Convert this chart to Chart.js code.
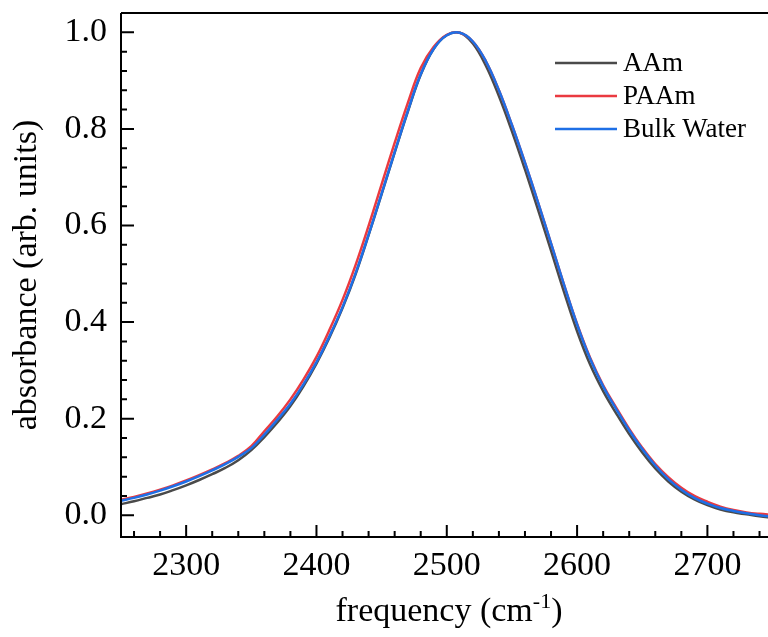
<!DOCTYPE html>
<html>
<head>
    <meta charset="UTF-8">
    <title>absorbance</title>
    <script src="https://cdn.jsdelivr.net/npm/chart.js"></script>
    <style>
        html, body {
            margin: 0;
            padding: 0;
            background: #fff;
        }
        #wrap {
            width: 768px;
            height: 637px;
        }
    </style>
</head>
<body>
    <div id="wrap"><canvas id="chart"></canvas></div>
    <script>
        // frequency (cm-1)
        const freq = [
            2250, 2260, 2270, 2280, 2290, 2300, 2310, 2320, 2330, 2340,
            2350, 2360, 2370, 2380, 2390, 2400, 2410, 2420, 2430, 2440,
            2450, 2460, 2470, 2480, 2490, 2500, 2510, 2520, 2530, 2540,
            2550, 2560, 2570, 2580, 2590, 2600, 2610, 2620, 2630, 2640,
            2650, 2660, 2670, 2680, 2690, 2700, 2710, 2720, 2730, 2740, 2750
        ];
        const aam = [
            0.023, 0.029, 0.036, 0.043, 0.052, 0.062, 0.073, 0.085, 0.098, 0.114,
            0.135, 0.162, 0.192, 0.226, 0.267, 0.314, 0.368, 0.429, 0.499, 0.580,
            0.665, 0.751, 0.835, 0.912, 0.966, 0.994, 0.999, 0.977, 0.931, 0.868,
            0.795, 0.716, 0.633, 0.548, 0.462, 0.381, 0.312, 0.257, 0.211, 0.168,
            0.130, 0.097, 0.070, 0.049, 0.033, 0.021, 0.012, 0.006, 0.002, -0.002, -0.005
        ];
        const paam = [
            0.032, 0.038, 0.045, 0.053, 0.062, 0.072, 0.083, 0.095, 0.108, 0.123,
            0.143, 0.174, 0.205, 0.240, 0.281, 0.328, 0.384, 0.446, 0.518, 0.599,
            0.685, 0.771, 0.853, 0.926, 0.970, 0.995, 0.999, 0.981, 0.940, 0.880,
            0.808, 0.730, 0.648, 0.563, 0.477, 0.396, 0.326, 0.269, 0.223, 0.179,
            0.140, 0.106, 0.079, 0.057, 0.040, 0.028, 0.018, 0.011, 0.006, 0.003, 0.001
        ];
        const bulkWater = [
            0.030, 0.036, 0.043, 0.051, 0.060, 0.070, 0.081, 0.093, 0.106, 0.121,
            0.139, 0.167, 0.198, 0.231, 0.271, 0.317, 0.371, 0.431, 0.501, 0.581,
            0.666, 0.752, 0.836, 0.913, 0.966, 0.994, 0.999, 0.981, 0.940, 0.880,
            0.808, 0.730, 0.648, 0.563, 0.477, 0.395, 0.324, 0.267, 0.220, 0.176,
            0.137, 0.103, 0.075, 0.053, 0.036, 0.024, 0.015, 0.009, 0.004, 0.000, -0.003
        ];
        const seriesNames = ["AAm", "PAAm", "Bulk Water"];
        const seriesColors = ["#4a4a4a", "#ea3a40", "#1e6fe6"];

        const xMajor = [2300, 2400, 2500, 2600, 2700];
        const xMinor = [2260, 2280, 2320, 2340, 2360, 2380, 2420, 2440, 2460, 2480,
            2520, 2540, 2560, 2580, 2620, 2640, 2660, 2680, 2720, 2740];
        const yMajor = [0.0, 0.2, 0.4, 0.6, 0.8, 1.0];
        const yMinor = [0.04, 0.08, 0.12, 0.16, 0.24, 0.28, 0.32, 0.36, 0.44, 0.48, 0.52, 0.56,
            0.64, 0.68, 0.72, 0.76, 0.84, 0.88, 0.92, 0.96];

        const FONT = "'Liberation Serif', 'Times New Roman', serif";

        const allSeries = [aam, paam, bulkWater];
        const datasets = allSeries.map((vals, i) => ({
            label: seriesNames[i],
            data: freq.map((f, j) => ({ x: f, y: vals[j] })),
            borderColor: seriesColors[i],
            borderWidth: 2.5,
            pointRadius: 0,
            tension: 0.4,
            fill: false,
            order: allSeries.length - i   // last series on top
        }));

        // axes box, inward ticks, legend and x title
        const decorations = {
            id: "decorations",
            afterDraw(chart) {
                const ctx = chart.ctx;
                const a = chart.chartArea;
                const xs = chart.scales.x;
                const ys = chart.scales.y;
                ctx.save();
                ctx.strokeStyle = "#000";
                ctx.lineWidth = 2;

                ctx.beginPath();
                ctx.moveTo(a.left, a.top);
                ctx.lineTo(a.right + 2, a.top);
                ctx.moveTo(a.left, a.top);
                ctx.lineTo(a.left, a.bottom);
                ctx.lineTo(a.right + 2, a.bottom);
                ctx.stroke();

                ctx.beginPath();
                xMajor.forEach(v => {
                    const px = xs.getPixelForValue(v);
                    ctx.moveTo(px, a.bottom);
                    ctx.lineTo(px, a.bottom - 12);
                });
                xMinor.forEach(v => {
                    const px = xs.getPixelForValue(v);
                    ctx.moveTo(px, a.bottom);
                    ctx.lineTo(px, a.bottom - 6);
                });
                yMajor.forEach(v => {
                    const py = ys.getPixelForValue(v);
                    ctx.moveTo(a.left, py);
                    ctx.lineTo(a.left + 13, py);
                });
                yMinor.forEach(v => {
                    const py = ys.getPixelForValue(v);
                    ctx.moveTo(a.left, py);
                    ctx.lineTo(a.left + 6, py);
                });
                ctx.stroke();

                // legend
                ctx.font = "27px " + FONT;
                ctx.textBaseline = "middle";
                ctx.textAlign = "left";
                seriesNames.forEach((name, i) => {
                    const y = 63 + i * 33;
                    ctx.strokeStyle = seriesColors[i];
                    ctx.lineWidth = 2.5;
                    ctx.beginPath();
                    ctx.moveTo(555, y);
                    ctx.lineTo(617, y);
                    ctx.stroke();
                    ctx.fillStyle = "#000";
                    ctx.fillText(name, 623, y + 1);
                });

                // x axis title with superscript
                const main = "frequency (cm";
                const sup = "-1";
                const end = ")";
                ctx.textBaseline = "alphabetic";
                ctx.font = "34px " + FONT;
                const w1 = ctx.measureText(main).width;
                const w3 = ctx.measureText(end).width;
                ctx.font = "22px " + FONT;
                const w2 = ctx.measureText(sup).width;
                let x = 449 - (w1 + w2 + w3) / 2;
                const base = 621;
                ctx.fillStyle = "#000";
                ctx.font = "34px " + FONT;
                ctx.fillText(main, x, base);
                x += w1;
                ctx.font = "22px " + FONT;
                ctx.fillText(sup, x, base - 13);
                x += w2;
                ctx.font = "34px " + FONT;
                ctx.fillText(end, x, base);
                ctx.restore();
            }
        };

        const chart = new Chart(document.getElementById("chart"), {
            type: "line",
            data: { datasets },
            options: {
                responsive: true,
                maintainAspectRatio: false,
                animation: false,
                layout: { padding: { top: 13, right: 0, left: 0, bottom: 0 } },
                plugins: {
                    legend: { display: false },
                    tooltip: { enabled: false }
                },
                scales: {
                    x: {
                        type: "linear",
                        min: 2250,
                        max: 2746.5,
                        grid: { display: false, drawTicks: false },
                        border: { display: false },
                        afterBuildTicks: (scale) => {
                            scale.ticks = xMajor.map(v => ({ value: v }));
                        },
                        afterFit: (scale) => {
                            scale.height = 100;
                            scale.paddingLeft = 0;
                            scale.paddingRight = 0;
                        },
                        ticks: {
                            padding: 12,
                            maxRotation: 0,
                            color: "#000",
                            font: { family: FONT, size: 34, lineHeight: 1 },
                            callback: (v) => String(v)
                        }
                    },
                    y: {
                        min: -0.045,
                        max: 1.04,
                        grid: { display: false, drawTicks: false },
                        border: { display: false },
                        afterBuildTicks: (scale) => {
                            scale.ticks = yMajor.map(v => ({ value: v }));
                        },
                        afterFit: (scale) => {
                            scale.width = 121;
                            scale.paddingTop = 0;
                            scale.paddingBottom = 0;
                        },
                        ticks: {
                            padding: 14,
                            color: "#000",
                            font: { family: FONT, size: 34 },
                            callback: (v) => Number(v).toFixed(1)
                        },
                        title: {
                            display: true,
                            text: "absorbance (arb. units)",
                            color: "#000",
                            font: { family: FONT, size: 34 },
                            padding: { top: 7, bottom: 0 }
                        }
                    }
                }
            },
            plugins: [decorations]
        });
    </script>
</body>
</html>
